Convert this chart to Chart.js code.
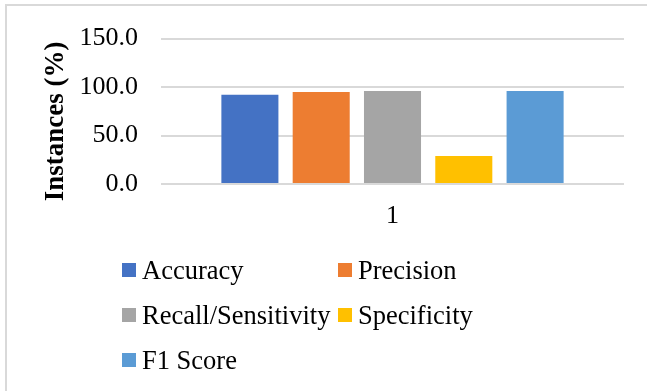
<!DOCTYPE html>
<html>
<head>
<meta charset="utf-8">
<script src="https://cdn.jsdelivr.net/npm/chart.js@4/dist/chart.umd.min.js"></script>
<style>
  html, body { margin: 0; padding: 0; background: #ffffff; }
  #wrap { width: 647px; height: 391px; position: relative; }
</style>
</head>
<body>
<div id="wrap"><canvas id="c" width="647" height="391"></canvas></div>
<script>
// Classifier performance metrics, one group of bars
const categories = ['1'];
const metricNames = ['Accuracy', 'Precision', 'Recall/Sensitivity', 'Specificity', 'F1 Score'];
const metricValues = [92, 95, 96, 29, 96];
const metricColors = ['#4472C4', '#ED7D31', '#A5A5A5', '#FFC000', '#5B9BD5'];
const yTicks = [0, 50, 100, 150];
const yTitle = 'Instances (%)';

const SERIF = "'Liberation Serif', 'Times New Roman', serif";
const GRID = '#d9d9d9';

const datasets = metricNames.map((name, i) => ({
  label: name,
  data: [metricValues[i]],
  backgroundColor: metricColors[i],
  borderWidth: 0,
  categoryPercentage: 0.77,
  barPercentage: 0.8
}));

// Light frame along the top and left edges of the chart
const framePlugin = {
  id: 'frame',
  beforeDraw(chart) {
    const ctx = chart.ctx;
    ctx.save();
    ctx.fillStyle = '#ffffff';
    ctx.fillRect(0, 0, chart.width, chart.height);
    ctx.strokeStyle = GRID;
    ctx.lineWidth = 2;
    ctx.beginPath();
    ctx.moveTo(6, chart.height);
    ctx.lineTo(6, 5);
    ctx.lineTo(chart.width, 5);
    ctx.stroke();
    ctx.restore();
  }
};

// Rotated y-axis title
const yTitlePlugin = {
  id: 'yTitle',
  afterDraw(chart) {
    const ctx = chart.ctx;
    ctx.save();
    ctx.translate(63, 121.5);
    ctx.rotate(-Math.PI / 2);
    ctx.font = 'bold 27px ' + SERIF;
    ctx.fillStyle = '#000000';
    ctx.textAlign = 'center';
    ctx.textBaseline = 'alphabetic';
    ctx.fillText(yTitle, 0, 0);
    ctx.restore();
  }
};

// Two-column legend grid below the plot
const gridLegendPlugin = {
  id: 'gridLegend',
  afterDraw(chart) {
    const ctx = chart.ctx;
    const colX = [122, 338];
    const rowY0 = 270, rowStep = 45, box = 14;
    ctx.save();
    ctx.font = '26.5px ' + SERIF;
    ctx.textAlign = 'left';
    ctx.textBaseline = 'alphabetic';
    chart.data.datasets.forEach((ds, i) => {
      const x = colX[i % 2];
      const yc = rowY0 + Math.floor(i / 2) * rowStep;
      ctx.fillStyle = ds.backgroundColor;
      ctx.fillRect(x, yc - box / 2, box, box);
      ctx.fillStyle = '#000000';
      ctx.fillText(ds.label, x + 20, yc + 8.5);
    });
    ctx.restore();
  }
};

new Chart(document.getElementById('c'), {
  type: 'bar',
  data: { labels: categories, datasets },
  options: {
    responsive: false,
    animation: false,
    devicePixelRatio: 1,
    layout: { padding: { left: 0, top: 34, right: 23, bottom: 157 } },
    plugins: {
      legend: { display: false },
      tooltip: { enabled: false },
      title: { display: false }
    },
    scales: {
      x: {
        grid: { display: false, drawTicks: false },
        border: { display: false },
        ticks: { color: '#000000', font: { family: SERIF, size: 26 }, padding: 17 },
        afterFit(scale) { scale.height = 50; }
      },
      y: {
        min: yTicks[0],
        max: yTicks[yTicks.length - 1],
        afterBuildTicks(scale) { scale.ticks = yTicks.map(v => ({ value: v })); },
        grid: { color: GRID, lineWidth: 2, drawTicks: false },
        border: { display: false },
        ticks: {
          color: '#000000',
          font: { family: SERIF, size: 26 },
          padding: 23,
          callback: v => Number(v).toFixed(1)
        },
        afterFit(scale) { scale.width = 161; }
      }
    }
  },
  plugins: [framePlugin, yTitlePlugin, gridLegendPlugin]
});
</script>
</body>
</html>
